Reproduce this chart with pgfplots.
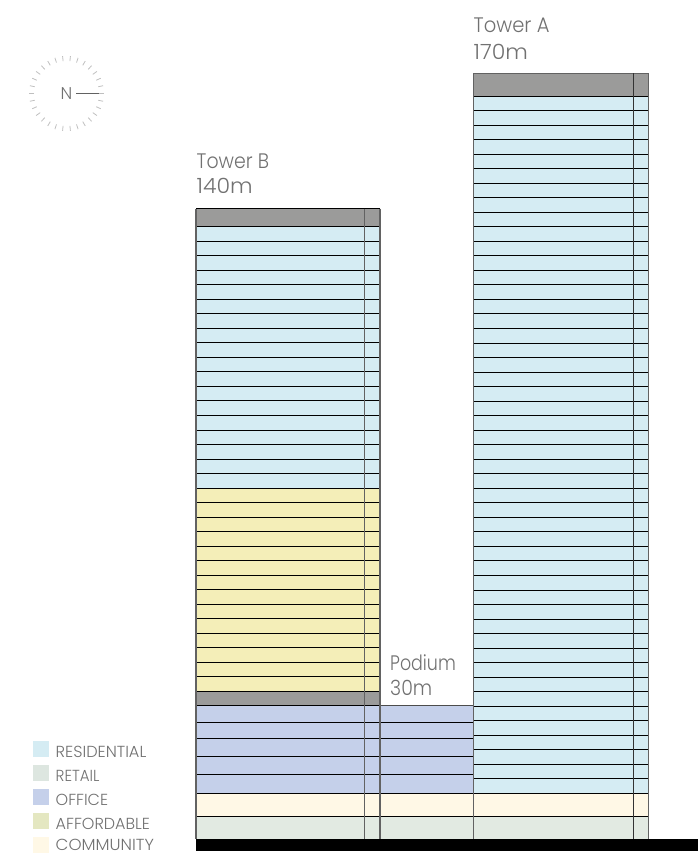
\documentclass[border=0pt]{standalone}
\usepackage{fontspec}
\setmainfont{Poppins Light}
\usepackage{pgfplots}
\usepackage{pgfplotstable}
\pgfplotsset{compat=1.18}

\definecolor{resi}{HTML}{D5ECF3}
\definecolor{afford}{HTML}{F4EEB8}
\definecolor{office}{HTML}{C5D0EA}
\definecolor{commun}{HTML}{FFF8E6}
\definecolor{retail}{HTML}{E2EAE2}
\definecolor{roof}{HTML}{9B9B9A}
\definecolor{edge}{HTML}{626262}
\definecolor{txt}{HTML}{717171}
\definecolor{legaff}{HTML}{E4E7C1}
\definecolor{legret}{HTML}{DDE6E0}

\tikzset{
    lab/.style={font=\fontsize{21}{21}\selectfont, text=txt, anchor=base west, inner sep=0pt},
    leg/.style={font=\fontsize{16}{16}\selectfont, text=txt, anchor=base west, inner sep=0pt},
}
\newcommand\sx[2]{\scalebox{#1}[1]{#2}}

% floor lines, y in px from the top of the picture
\pgfplotstableread{
y
96.2
110.5
125.1
139.6
154.1
168.7
183.2
197.7
212.2
226.8
241.3
255.8
270.4
284.9
299.4
313.9
328.5
343.3
357.5
372.1
386.6
401.1
415.7
430.2
444.7
459.2
473.8
488.3
502.8
517.4
531.9
546.4
560.9
575.5
590.3
604.5
619.1
633.6
648.1
662.7
677.2
691.7
706.2
720.8
735.3
749.8
764.4
778.9
793.4
816.4
}\floorsA
\pgfplotstableread{
y
226.7
241.2
255.7
270.3
284.8
299.3
313.8
328.3
342.9
357.4
371.9
386.4
400.9
415.5
430.3
444.5
459.3
473.5
488.1
502.6
517.1
531.6
546.1
560.7
575.2
589.7
604.2
618.7
633.3
647.8
662.3
676.8
691.4
705.8
}\floorsB
\pgfplotstableread{
y
722.3
738.8
756.8
774.8
793.2
816.3
}\floorsLow

\begin{document}
\begin{tikzpicture}
\begin{axis}[
    scale only axis,
    width=698pt, height=853pt,
    xmin=0, xmax=698, ymin=0, ymax=853,
    y dir=reverse,
    hide axis,
    clip=false,
    every axis plot/.append style={forget plot},
]
\path (axis cs:0,0) rectangle (axis cs:698,853);
% zones, tower A
\addplot[fill=roof, draw=none] coordinates {(473.5,73.5)(648.5,73.5)(648.5,96)(473.5,96)} -- cycle;
\addplot[fill=resi, draw=none] coordinates {(473.5,96)(648.5,96)(648.5,793.4)(473.5,793.4)} -- cycle;
% zones, tower B
\addplot[fill=roof, draw=none] coordinates {(196,208.7)(380,208.7)(380,226.7)(196,226.7)} -- cycle;
\addplot[fill=resi, draw=none] coordinates {(196,226.7)(380,226.7)(380,488.1)(196,488.1)} -- cycle;
\addplot[fill=afford, draw=none] coordinates {(196,488.1)(380,488.1)(380,691.4)(196,691.4)} -- cycle;
\addplot[fill=roof, draw=none] coordinates {(196,691.4)(380,691.4)(380,705.8)(196,705.8)} -- cycle;
% office and base, running across the podium
\addplot[fill=office, draw=none] coordinates {(196,705.8)(473.5,705.8)(473.5,793.2)(196,793.2)} -- cycle;
\addplot[fill=commun, draw=none] coordinates {(196,793.2)(648.5,793.2)(648.5,816.3)(196,816.3)} -- cycle;
\addplot[fill=retail, draw=none] coordinates {(196,816.3)(648.5,816.3)(648.5,839.3)(196,839.3)} -- cycle;
% floor lines
\addplot[draw=none, mark=none, error bars/.cd, x dir=plus, x fixed=175, error mark=none,
    error bar style={black, line width=1.15pt}] table[x expr=473.5, y=y] {\floorsA};
\addplot[draw=none, mark=none, error bars/.cd, x dir=plus, x fixed=184, error mark=none,
    error bar style={black, line width=1.15pt}] table[x expr=196, y=y] {\floorsB};
\addplot[draw=none, mark=none, error bars/.cd, x dir=plus, x fixed=277.5, error mark=none,
    error bar style={black, line width=1.15pt}] table[x expr=196, y=y] {\floorsLow};
\addplot[black!70, line width=1pt] coordinates {(380,705.8)(473.5,705.8)};
\addplot[black, line width=1.2pt] coordinates {(196,208.7)(380,208.7)};
\addplot[edge, line width=1.2pt] coordinates {(473.5,73.5)(648.5,73.5)};
% walls and service core
\addplot[edge, line width=1.2pt] coordinates {(196,208.7)(196,839.3)};
\addplot[edge, line width=1.2pt] coordinates {(364.3,208.7)(364.3,839.3)};
\addplot[edge, line width=1.2pt] coordinates {(380,208.7)(380,839.3)};
\addplot[edge, line width=1.2pt] coordinates {(473.5,73.5)(473.5,839.3)};
\addplot[black!80, line width=1.2pt] coordinates {(633.5,73.5)(633.5,839.3)};
\addplot[edge, line width=1.2pt] coordinates {(648.5,73.5)(648.5,839.3)};
% ground
\addplot[fill=black, draw=none] coordinates {(196,839.3)(698,839.3)(698,851.3)(196,851.3)} -- cycle;
% legend swatches
\addplot[fill=resi, draw=none] coordinates {(32.5,741)(48.5,741)(48.5,757)(32.5,757)} -- cycle;
\addplot[fill=legret, draw=none] coordinates {(32.5,765)(48.5,765)(48.5,781)(32.5,781)} -- cycle;
\addplot[fill=office, draw=none] coordinates {(32.5,789)(48.5,789)(48.5,805)(32.5,805)} -- cycle;
\addplot[fill=legaff, draw=none] coordinates {(32.5,813)(48.5,813)(48.5,829)(32.5,829)} -- cycle;
\addplot[fill=commun, draw=none] coordinates {(32.5,837)(48.5,837)(48.5,853)(32.5,853)} -- cycle;
\node[leg] at (axis cs:55.5,757) {\sx{1.01}{RESIDENTIAL}};
\node[leg] at (axis cs:55.5,781) {\sx{.94}{RETAIL}};
\node[leg] at (axis cs:55.5,805) {\sx{1.0}{OFFICE}};
\node[leg] at (axis cs:55.5,829) {\sx{1.0}{AFFORDABLE}};
\node[leg] at (axis cs:55.5,850.5) {\sx{1.04}{COMMUNITY}};
% labels
\node[lab] at (axis cs:473.5,33) {\sx{.93}{Tower A}};
\node[lab] at (axis cs:473.5,59.5) {\sx{1.05}{170m}};
\node[lab] at (axis cs:196.5,168.5) {\sx{.9}{Tower B}};
\node[lab] at (axis cs:196.5,193.5) {\sx{1.05}{140m}};
\node[lab] at (axis cs:390,670) {\sx{.83}{Podium}};
\node[lab] at (axis cs:390,695) {\sx{.9}{30m}};
% north mark
\addplot[edge, line width=.8pt] coordinates {(76,93.5)(104,93.5)};
\node[font=\fontsize{17}{17}\selectfont, text=txt, inner sep=0pt] at (axis cs:66.5,93.5) {N};
\coordinate (north) at (axis cs:66.5,93.5);
\end{axis}
\foreach \a in {0,12,...,348}
    \draw[black!25, line width=.8pt, shift={(north)}] (\a:32.5pt) -- (\a:37.5pt);
\end{tikzpicture}
\end{document}
